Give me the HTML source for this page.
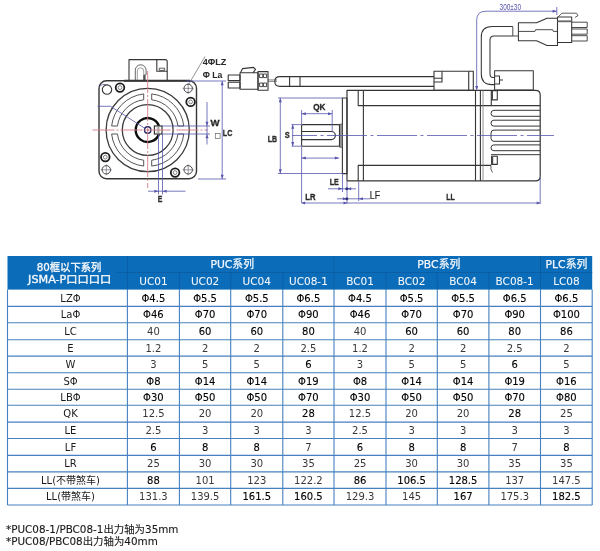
<!DOCTYPE html>
<html><head><meta charset="utf-8"><title>JSMA-P 80框以下系列 尺寸</title>
<style>
html,body{margin:0;padding:0;background:#fff;}
body{width:600px;height:551px;overflow:hidden;position:relative;}
svg{position:absolute;left:0;top:0;display:block;}
</style></head><body>
<svg width="600" height="551" viewBox="0 0 600 551">
<defs><filter id="soft" x="0" y="0" width="1" height="1"><feGaussianBlur stdDeviation="0.5"/></filter></defs>
<g filter="url(#soft)">
<g fill="none" stroke="#363636" stroke-width="1.1" stroke-linejoin="round">
<path d="M129 80.8 V59.6 H165.2 Q167.2 59.6 167.2 61.6 V80.8"/>
<path d="M135.3 80.8 V70.2 a5.4 5.4 0 0 1 10.8 0 V75" stroke="#555" stroke-width="0.9"/>
<path d="M137.3 80.8 V71 a3.2 3.2 0 0 1 6.4 0 V74" stroke="#777" stroke-width="0.7"/>
<rect x="143.2" y="74.5" width="2.4" height="6" fill="#555" stroke="none"/>
<path d="M156.8 59.6 V71.2 H167.2"/>
<rect x="159.2" y="68.2" width="5.4" height="2.2" stroke-width="0.8"/>
<rect x="99" y="80.8" width="97.5" height="98" rx="7.5" stroke-width="1.4"/>
<line x1="124" y1="80.8" x2="190" y2="80.8" stroke-width="2"/>
<circle cx="147.7" cy="130.0" r="41.6" stroke="#3a3a3a" stroke-width="1.3"/>
<circle cx="147.7" cy="130.0" r="25.4" stroke="#3a3a3a" stroke-width="1.3"/>
<path d="M183.78 134.00 A36.3 36.3 0 0 1 151.70 166.08 L151.70 160.24 A30.5 30.5 0 0 0 177.94 134.00 Z" stroke="#555" stroke-width="1.0"/>
<path d="M143.70 166.08 A36.3 36.3 0 0 1 111.62 134.00 L117.46 134.00 A30.5 30.5 0 0 0 143.70 160.24 Z" stroke="#555" stroke-width="1.0"/>
<path d="M111.62 126.00 A36.3 36.3 0 0 1 143.70 93.92 L143.70 99.76 A30.5 30.5 0 0 0 117.46 126.00 Z" stroke="#555" stroke-width="1.0"/>
<path d="M151.70 93.92 A36.3 36.3 0 0 1 183.78 126.00 L177.94 126.00 A30.5 30.5 0 0 0 151.70 99.76 Z" stroke="#555" stroke-width="1.0"/>
</g>
<path d="M159.01 134.00 A12 12 0 1 1 159.01 126.00" fill="none" stroke="#111" stroke-width="2.4"/>
<rect x="154.4" y="126" width="7.6" height="8" fill="#fff" stroke="#363636" stroke-width="1.2"/>
<path d="M156.5 128 h3.5 M156.5 130 h3.5 M156.5 132 h3.5 M158.2 127 v6" stroke="#777" stroke-width="0.6"/>
<circle cx="147.7" cy="130.0" r="3.2" fill="none" stroke="#2a2a6a" stroke-width="1.4"/>
<circle cx="147.7" cy="130.0" r="1" fill="#777"/>
<circle cx="188.2" cy="88.4" r="4.2" fill="none" stroke="#444" stroke-width="1"/>
<path d="M182.7 88.4 h11 M188.2 82.9 v11" stroke="#556" stroke-width="0.6"/>
<circle cx="106.3" cy="169.8" r="4.2" fill="none" stroke="#444" stroke-width="1"/>
<path d="M100.8 169.8 h11 M106.3 164.3 v11" stroke="#556" stroke-width="0.6"/>
<circle cx="188.2" cy="169.8" r="4.2" fill="none" stroke="#444" stroke-width="1"/>
<path d="M182.7 169.8 h11 M188.2 164.3 v11" stroke="#556" stroke-width="0.6"/>
<circle cx="107" cy="89.6" r="4.7" fill="none" stroke="#333" stroke-width="1.1"/>
<path d="M99.5 86.5 Q102 83.2 106.5 84.6" fill="none" stroke="#55559a" stroke-width="0.8"/>
<circle cx="120" cy="87.6" r="4.3" fill="none" stroke="#1e1e1e" stroke-width="1.8"/>
<circle cx="120" cy="87.6" r="1.9" fill="none" stroke="#666" stroke-width="0.8"/>
<circle cx="190.6" cy="101.9" r="4.3" fill="none" stroke="#1e1e1e" stroke-width="1.8"/>
<circle cx="190.6" cy="101.9" r="1.9" fill="none" stroke="#666" stroke-width="0.8"/>
<circle cx="105.3" cy="157.1" r="4.3" fill="none" stroke="#1e1e1e" stroke-width="1.8"/>
<circle cx="105.3" cy="157.1" r="1.9" fill="none" stroke="#666" stroke-width="0.8"/>
<circle cx="175.1" cy="172.6" r="4.3" fill="none" stroke="#1e1e1e" stroke-width="1.8"/>
<circle cx="175.1" cy="172.6" r="1.9" fill="none" stroke="#666" stroke-width="0.8"/>
<g stroke="#d47c86" stroke-width="0.9" fill="none" stroke-dasharray="22 2 2 2">
<line x1="92.5" y1="130.0" x2="208" y2="130.0"/>
<line x1="147.7" y1="71" x2="147.7" y2="188"/>
</g>
<polyline points="97.5,106.3 110.5,106.3 145.3,128.6" fill="none" stroke="#5656ad" stroke-width="0.8"/>
<line x1="205" y1="56.5" x2="188.6" y2="84.5" stroke="#666" stroke-width="0.7"/>
<g stroke="#5656ad" stroke-width="0.8" fill="none">
<line x1="162" y1="126" x2="210" y2="126"/>
<line x1="162" y1="134" x2="210" y2="134"/>
<line x1="207" y1="102" x2="207" y2="144.5"/>
<line x1="186" y1="81" x2="226" y2="81"/>
<line x1="198" y1="179" x2="226" y2="179"/>
<line x1="222.2" y1="81" x2="222.2" y2="179"/>
<line x1="158.5" y1="134" x2="158.5" y2="194.5"/>
<line x1="162.5" y1="134" x2="162.5" y2="194.5"/>
<line x1="148" y1="191.2" x2="185.5" y2="191.2"/>
</g>
<path d="M207.00 126.00 L205.50 121.80 L208.50 121.80 Z" fill="#5656ad" stroke="none"/>
<path d="M207.00 134.00 L208.50 138.20 L205.50 138.20 Z" fill="#5656ad" stroke="none"/>
<path d="M222.20 81.00 L223.70 85.20 L220.70 85.20 Z" fill="#5656ad" stroke="none"/>
<path d="M222.20 179.00 L220.70 174.80 L223.70 174.80 Z" fill="#5656ad" stroke="none"/>
<path d="M158.50 191.20 L154.30 192.70 L154.30 189.70 Z" fill="#5656ad" stroke="none"/>
<path d="M162.50 191.20 L166.70 189.70 L166.70 192.70 Z" fill="#5656ad" stroke="none"/>
<rect x="215.3" y="133.4" width="4.8" height="5" fill="none" stroke="#666" stroke-width="0.7"/>
<g font-family="'Liberation Sans','Noto Sans CJK SC',sans-serif" font-weight="bold" fill="#2a2a2a" stroke="#2a2a2a" stroke-width="0.35" font-size="9.5">
<text x="202.8" y="65.2" textLength="23.6" lengthAdjust="spacingAndGlyphs" font-size="9.8" stroke-width="0.05">4ΦLZ</text>
<text x="202.8" y="77.5" textLength="19.6" lengthAdjust="spacingAndGlyphs" font-size="9.8" stroke-width="0.05">Φ La</text>
<text x="210.4" y="126.2" textLength="9" lengthAdjust="spacingAndGlyphs">W</text>
<text x="222.8" y="136" textLength="9.6" lengthAdjust="spacingAndGlyphs">LC</text>
<text x="157.8" y="201.6" textLength="4.6" lengthAdjust="spacingAndGlyphs">E</text>
<text x="313.2" y="110.4" textLength="12.2" lengthAdjust="spacingAndGlyphs">QK</text>
<text x="267.8" y="142.4" textLength="9.3" lengthAdjust="spacingAndGlyphs">LB</text>
<text x="284.8" y="138.4" textLength="5" lengthAdjust="spacingAndGlyphs">S</text>
<text x="329.8" y="185.2" textLength="9" lengthAdjust="spacingAndGlyphs">LE</text>
<text x="369.8" y="198.8" textLength="10.2" lengthAdjust="spacingAndGlyphs" font-weight="normal" font-size="10.4" stroke-width="0.2">LF</text>
<text x="305.3" y="199.6" textLength="10.2" lengthAdjust="spacingAndGlyphs">LR</text>
<text x="446.3" y="199.6" textLength="8.4" lengthAdjust="spacingAndGlyphs">LL</text>
</g>
<text x="499.6" y="10" font-family="'Liberation Sans','Noto Sans CJK SC',sans-serif" font-size="8.2" fill="#5656ad" textLength="21.4" lengthAdjust="spacingAndGlyphs">300±30</text>
<g fill="none" stroke="#363636" stroke-width="1.1" stroke-linejoin="round">
<rect x="228.2" y="75" width="11.8" height="5.6"/>
<rect x="228.2" y="82.2" width="11.8" height="5.8"/>
<rect x="240" y="72.8" width="18" height="16.4"/>
<path d="M240.5 72.8 L242.5 68.6 L253.5 67.4 L255.5 69.5 L253 72.8"/>
<rect x="258" y="71.6" width="10" height="18.6"/>
<rect x="259.6" y="74" width="3.2" height="3.6" stroke-width="0.9"/><rect x="263.4" y="74" width="3.2" height="3.6" stroke-width="0.9"/>
<rect x="259.6" y="83" width="3.2" height="3.6" stroke-width="0.9"/><rect x="263.4" y="83" width="3.2" height="3.6" stroke-width="0.9"/>
<path d="M268 79.9 H277 M268 81.4 H277" stroke-width="0.6"/>
<path d="M434 76.6 H280 Q274.8 76.6 274.8 81.5 Q274.8 86.4 280 86.4 H434"/>
<line x1="289.6" y1="76.6" x2="289.6" y2="86.4"/>
<line x1="300" y1="76.6" x2="300" y2="86.4"/>
<rect x="434" y="71.3" width="39.3" height="19"/>
<path d="M442 71.3 V82 H434 M434 78.2 H442 M468.7 71.3 V90.3"/>
<path d="M347 90.3 H535.6 Q540.2 90.3 540.2 95 V176.2 Q540.2 180.9 535.4 180.9 H347 Z" stroke-width="1.2"/>
<line x1="475.5" y1="90.3" x2="475.5" y2="180.9"/>
<line x1="363.4" y1="90.3" x2="363.4" y2="180.9"/>
<path d="M358.2 90.3 V105.6 H540"/>
<path d="M358.2 180.9 V165.4 H491"/>
<rect x="342.4" y="98" width="4.6" height="75.6"/>
<rect x="339.5" y="124.2" width="2.9" height="23" fill="#9a9a9a" stroke="#444" stroke-width="0.8"/>
<rect x="301.6" y="124.6" width="37.9" height="21.6" rx="1.2"/>
<path d="M301.6 131.5 H331.3 A4.05 4.05 0 0 1 331.3 139.6 H301.6" stroke-width="1.2"/>
<line x1="480.4" y1="90.3" x2="480.4" y2="180.9"/>
<line x1="483" y1="90.3" x2="483" y2="180.9" stroke="#777" stroke-width="0.8"/>
<rect x="491.3" y="90.6" width="6" height="9.3"/>
<rect x="491.4" y="91" width="1.6" height="8.4" fill="#444" stroke="none"/>
<rect x="491.6" y="156.3" width="5.7" height="8.1"/>
<rect x="491.6" y="156.8" width="1.6" height="7.4" fill="#444" stroke="none"/>
<line x1="491.3" y1="99.9" x2="491.3" y2="105.6"/>
<path d="M491 165.6 Q490 169 492.5 172.5" stroke-width="0.8"/>
<path d="M540 110.3 H494.0 Q491 110.3 491 113.3 V113.3 Q491 116.3 494.0 116.3 H540" stroke-width="1"/>
<path d="M540 120.2 H493.9 Q491 120.2 491 123.2 V123.2 Q491 126.1 493.9 126.1 H540" stroke-width="1"/>
<path d="M540 130.1 H494.0 Q491 130.1 491 133.1 V138.3 Q491 141.3 494.0 141.3 H540" stroke-width="1"/>
<path d="M540 144.9 H493.9 Q491 144.9 491 147.8 V147.8 Q491 150.7 493.9 150.7 H540" stroke-width="1"/>
<line x1="491" y1="154.7" x2="540" y2="154.7" stroke-width="1"/>
</g>
<g fill="none" stroke="#363636" stroke-width="1.05" stroke-linejoin="round">
<rect x="494.6" y="70.8" width="38.7" height="19.3"/>
<path d="M494.6 76 H499.5 V84 H494.6 M499.5 80 H503"/>
<path d="M494.6 84.6 H492 Q481.3 84.6 481.3 74 V37 Q481.3 26.4 492 26.4 H512.8"/>
<path d="M494.6 77.5 H493 Q490 77.5 490 74 V40 Q490 35.9 494 35.9 H512.8"/>
<path d="M512.8 26.7 V36 M512.8 36 H518.4" stroke-width="0.9"/>
<path d="M518.4 22.7 H536.6 L547 18.2 H557.5 V45.4 H547 L536.6 40.8 H518.4 Z"/>
<path d="M518.4 31.4 H534.9 L535.6 29.7 H552.6 L553.3 31.4 H557.5" stroke-width="0.9"/>
<rect x="557.5" y="17" width="14.2" height="25.5"/>
<rect x="557.5" y="20.4" width="14.2" height="1.8" fill="#666" stroke="none"/>
<path d="M558 17 L562 13.2 H576.5 L578 15.5 L575 17.5" stroke-width="0.8"/>
<path d="M571.7 22.2 H587.2 V27.5 H571.7 M571.7 29 H587.2 V34.2 H571.7 M571.7 35.7 H587.2 V41 H571.7" stroke-width="0.9"/>
</g>
<line x1="292" y1="135.5" x2="554" y2="135.5" stroke="#5656ad" stroke-width="0.8" stroke-dasharray="40 3.5 3 3.5" stroke-dashoffset="15"/>
<g stroke="#5656ad" stroke-width="0.8" fill="none">
<line x1="278" y1="98" x2="342.4" y2="98"/>
<line x1="278" y1="173.5" x2="342.4" y2="173.5"/>
<line x1="280.3" y1="98" x2="280.3" y2="173.5"/>
<line x1="291.5" y1="124.6" x2="301.6" y2="124.6"/>
<line x1="291.5" y1="146.2" x2="301.6" y2="146.2"/>
<line x1="292.7" y1="124.6" x2="292.7" y2="146.2"/>
<line x1="301.6" y1="110" x2="301.6" y2="124.6"/>
<line x1="332.2" y1="110" x2="332.2" y2="131.5"/>
<line x1="301.6" y1="113.7" x2="332.2" y2="113.7"/>
<line x1="301.6" y1="146.2" x2="301.6" y2="203"/>
<line x1="301.6" y1="158.1" x2="339" y2="158.1"/>
<line x1="342.5" y1="173.6" x2="342.5" y2="192"/>
<line x1="347" y1="181.5" x2="347" y2="204"/>
<line x1="358.7" y1="181.5" x2="358.7" y2="201"/>
<line x1="328" y1="188.8" x2="356" y2="188.8"/>
<line x1="337" y1="198.8" x2="370" y2="198.8"/>
<line x1="301.6" y1="203" x2="540.2" y2="203"/>
<line x1="540.2" y1="178" x2="540.2" y2="204"/>
<path d="M476.7 89.5 V20 Q476.7 11.2 486 11.2 H556.8"/>
<line x1="556.8" y1="7" x2="556.8" y2="15"/>
</g>
<path d="M280.30 98.00 L281.80 102.20 L278.80 102.20 Z" fill="#5656ad" stroke="none"/>
<path d="M280.30 173.50 L278.80 169.30 L281.80 169.30 Z" fill="#5656ad" stroke="none"/>
<path d="M292.70 124.60 L294.20 128.80 L291.20 128.80 Z" fill="#5656ad" stroke="none"/>
<path d="M292.70 146.20 L291.20 142.00 L294.20 142.00 Z" fill="#5656ad" stroke="none"/>
<path d="M301.60 113.70 L305.80 112.20 L305.80 115.20 Z" fill="#5656ad" stroke="none"/>
<path d="M332.20 113.70 L328.00 115.20 L328.00 112.20 Z" fill="#5656ad" stroke="none"/>
<path d="M301.60 158.10 L305.80 156.60 L305.80 159.60 Z" fill="#5656ad" stroke="none"/>
<path d="M339.00 158.10 L334.80 159.60 L334.80 156.60 Z" fill="#5656ad" stroke="none"/>
<path d="M342.50 188.80 L338.30 190.30 L338.30 187.30 Z" fill="#5656ad" stroke="none"/>
<path d="M347.00 188.80 L351.20 187.30 L351.20 190.30 Z" fill="#5656ad" stroke="none"/>
<path d="M347.00 198.80 L342.80 200.30 L342.80 197.30 Z" fill="#5656ad" stroke="none"/>
<path d="M358.70 198.80 L362.90 197.30 L362.90 200.30 Z" fill="#5656ad" stroke="none"/>
<path d="M301.60 203.00 L305.10 201.50 L305.10 204.50 Z" fill="#5656ad" stroke="none"/>
<path d="M347.00 203.00 L343.50 204.50 L343.50 201.50 Z" fill="#5656ad" stroke="none"/>
<path d="M540.20 203.00 L536.70 204.50 L536.70 201.50 Z" fill="#5656ad" stroke="none"/>
<path d="M476.70 90.20 L475.20 86.00 L478.20 86.00 Z" fill="#5656ad" stroke="none"/>
<path d="M556.80 11.20 L552.60 12.70 L552.60 9.70 Z" fill="#5656ad" stroke="none"/>
<circle cx="346.8" cy="188.8" r="1.5" fill="#33337a"/><circle cx="346.8" cy="198.8" r="1.5" fill="#33337a"/>
</g>
<rect x="7.5" y="256.0" width="584.7" height="33.60000000000002" fill="#0b6cb9"/>
<line x1="117" y1="272.5" x2="592.2" y2="272.5" stroke="#0a5ea6" stroke-width="1"/>
<line x1="127.4" y1="256.0" x2="127.4" y2="289.6" stroke="#0a5ea6" stroke-width="1"/>
<line x1="334.0" y1="256.0" x2="334.0" y2="289.6" stroke="#0a5ea6" stroke-width="1"/>
<line x1="540.5" y1="256.0" x2="540.5" y2="289.6" stroke="#0a5ea6" stroke-width="1"/>
<line x1="179.4" y1="272.5" x2="179.4" y2="289.6" stroke="#0a5ea6" stroke-width="1"/>
<line x1="230.7" y1="272.5" x2="230.7" y2="289.6" stroke="#0a5ea6" stroke-width="1"/>
<line x1="282.8" y1="272.5" x2="282.8" y2="289.6" stroke="#0a5ea6" stroke-width="1"/>
<line x1="386.0" y1="272.5" x2="386.0" y2="289.6" stroke="#0a5ea6" stroke-width="1"/>
<line x1="437.3" y1="272.5" x2="437.3" y2="289.6" stroke="#0a5ea6" stroke-width="1"/>
<line x1="488.9" y1="272.5" x2="488.9" y2="289.6" stroke="#0a5ea6" stroke-width="1"/>
<line x1="7.5" y1="306.4" x2="592.2" y2="306.4" stroke="#4680c0" stroke-width="1.1"/>
<line x1="7.5" y1="322.7" x2="592.2" y2="322.7" stroke="#4680c0" stroke-width="1.1"/>
<line x1="7.5" y1="339.7" x2="592.2" y2="339.7" stroke="#4680c0" stroke-width="1.1"/>
<line x1="7.5" y1="356.1" x2="592.2" y2="356.1" stroke="#4680c0" stroke-width="1.1"/>
<line x1="7.5" y1="372.8" x2="592.2" y2="372.8" stroke="#4680c0" stroke-width="1.1"/>
<line x1="7.5" y1="389.3" x2="592.2" y2="389.3" stroke="#4680c0" stroke-width="1.1"/>
<line x1="7.5" y1="405.2" x2="592.2" y2="405.2" stroke="#4680c0" stroke-width="1.1"/>
<line x1="7.5" y1="422.1" x2="592.2" y2="422.1" stroke="#4680c0" stroke-width="1.1"/>
<line x1="7.5" y1="438.5" x2="592.2" y2="438.5" stroke="#4680c0" stroke-width="1.1"/>
<line x1="7.5" y1="455.4" x2="592.2" y2="455.4" stroke="#4680c0" stroke-width="1.1"/>
<line x1="7.5" y1="471.9" x2="592.2" y2="471.9" stroke="#4680c0" stroke-width="1.1"/>
<line x1="7.5" y1="488.4" x2="592.2" y2="488.4" stroke="#4680c0" stroke-width="1.1"/>
<line x1="7.5" y1="505.0" x2="592.2" y2="505.0" stroke="#4680c0" stroke-width="1.1"/>
<line x1="7.5" y1="289.6" x2="7.5" y2="505.0" stroke="#4680c0" stroke-width="1.1"/>
<line x1="127.4" y1="289.6" x2="127.4" y2="505.0" stroke="#4680c0" stroke-width="1.1"/>
<line x1="179.4" y1="289.6" x2="179.4" y2="505.0" stroke="#4680c0" stroke-width="1.1"/>
<line x1="230.7" y1="289.6" x2="230.7" y2="505.0" stroke="#4680c0" stroke-width="1.1"/>
<line x1="282.8" y1="289.6" x2="282.8" y2="505.0" stroke="#4680c0" stroke-width="1.1"/>
<line x1="334.0" y1="289.6" x2="334.0" y2="505.0" stroke="#4680c0" stroke-width="1.1"/>
<line x1="386.0" y1="289.6" x2="386.0" y2="505.0" stroke="#4680c0" stroke-width="1.1"/>
<line x1="437.3" y1="289.6" x2="437.3" y2="505.0" stroke="#4680c0" stroke-width="1.1"/>
<line x1="488.9" y1="289.6" x2="488.9" y2="505.0" stroke="#4680c0" stroke-width="1.1"/>
<line x1="540.5" y1="289.6" x2="540.5" y2="505.0" stroke="#4680c0" stroke-width="1.1"/>
<line x1="592.2" y1="289.6" x2="592.2" y2="505.0" stroke="#4680c0" stroke-width="1.1"/>
<g fill="#f4f8fc" stroke="#f4f8fc" stroke-width="0.25" font-family="'DejaVu Sans','Noto Sans CJK SC',sans-serif" font-size="10" text-anchor="middle">
<text x="69" y="271" font-size="10.5" stroke-width="0.35" textLength="64.5" lengthAdjust="spacingAndGlyphs">80框以下系列</text>
<text x="69.6" y="283.2" font-size="10.5" stroke-width="0.35" textLength="83" lengthAdjust="spacingAndGlyphs">JSMA-P口口口口</text>
<text x="232.2" y="268.3" font-size="10.8">PUC系列</text>
<text x="438.8" y="268.3" font-size="10.8">PBC系列</text>
<text x="566.4" y="268.3" font-size="10.8">PLC系列</text>
<text x="153.4" y="284.7" font-size="10.5" stroke-width="0.05">UC01</text>
<text x="205.1" y="284.7" font-size="10.5" stroke-width="0.05">UC02</text>
<text x="256.8" y="284.7" font-size="10.5" stroke-width="0.05">UC04</text>
<text x="308.4" y="284.7" font-size="10.5" stroke-width="0.05">UC08-1</text>
<text x="360.0" y="284.7" font-size="10.5" stroke-width="0.05">BC01</text>
<text x="411.6" y="284.7" font-size="10.5" stroke-width="0.05">BC02</text>
<text x="463.1" y="284.7" font-size="10.5" stroke-width="0.05">BC04</text>
<text x="514.7" y="284.7" font-size="10.5" stroke-width="0.05">BC08-1</text>
<text x="566.4" y="284.7" font-size="10.5" stroke-width="0.05">LC08</text>
</g>
<g font-family="'DejaVu Sans','Noto Sans CJK SC',sans-serif" font-size="10" text-anchor="middle">
<text x="70.5" y="301.7" fill="#1a1a1a">LZΦ</text>
<text x="153.4" y="301.7" fill="#000" stroke="#000" stroke-width="0.12">Φ4.5</text>
<text x="205.1" y="301.7" fill="#000" stroke="#000" stroke-width="0.12">Φ5.5</text>
<text x="256.8" y="301.7" fill="#000" stroke="#000" stroke-width="0.12">Φ5.5</text>
<text x="308.4" y="301.7" fill="#000" stroke="#000" stroke-width="0.12">Φ6.5</text>
<text x="360.0" y="301.7" fill="#000" stroke="#000" stroke-width="0.12">Φ4.5</text>
<text x="411.6" y="301.7" fill="#000" stroke="#000" stroke-width="0.12">Φ5.5</text>
<text x="463.1" y="301.7" fill="#000" stroke="#000" stroke-width="0.12">Φ5.5</text>
<text x="514.7" y="301.7" fill="#000" stroke="#000" stroke-width="0.12">Φ6.5</text>
<text x="566.4" y="301.7" fill="#000" stroke="#000" stroke-width="0.12">Φ6.5</text>
<text x="70.5" y="318.2" fill="#1a1a1a">LaΦ</text>
<text x="153.4" y="318.2" fill="#000" stroke="#000" stroke-width="0.12">Φ46</text>
<text x="205.1" y="318.2" fill="#000" stroke="#000" stroke-width="0.12">Φ70</text>
<text x="256.8" y="318.2" fill="#000" stroke="#000" stroke-width="0.12">Φ70</text>
<text x="308.4" y="318.2" fill="#000" stroke="#000" stroke-width="0.12">Φ90</text>
<text x="360.0" y="318.2" fill="#000" stroke="#000" stroke-width="0.12">Φ46</text>
<text x="411.6" y="318.2" fill="#000" stroke="#000" stroke-width="0.12">Φ70</text>
<text x="463.1" y="318.2" fill="#000" stroke="#000" stroke-width="0.12">Φ70</text>
<text x="514.7" y="318.2" fill="#000" stroke="#000" stroke-width="0.12">Φ90</text>
<text x="566.4" y="318.2" fill="#000" stroke="#000" stroke-width="0.12">Φ100</text>
<text x="70.5" y="334.9" fill="#1a1a1a">LC</text>
<text x="153.4" y="334.9" fill="#383838">40</text>
<text x="205.1" y="334.9" fill="#000" stroke="#000" stroke-width="0.12">60</text>
<text x="256.8" y="334.9" fill="#000" stroke="#000" stroke-width="0.12">60</text>
<text x="308.4" y="334.9" fill="#000" stroke="#000" stroke-width="0.12">80</text>
<text x="360.0" y="334.9" fill="#383838">40</text>
<text x="411.6" y="334.9" fill="#000" stroke="#000" stroke-width="0.12">60</text>
<text x="463.1" y="334.9" fill="#000" stroke="#000" stroke-width="0.12">60</text>
<text x="514.7" y="334.9" fill="#000" stroke="#000" stroke-width="0.12">80</text>
<text x="566.4" y="334.9" fill="#000" stroke="#000" stroke-width="0.12">86</text>
<text x="70.5" y="351.6" fill="#1a1a1a">E</text>
<text x="153.4" y="351.6" fill="#383838">1.2</text>
<text x="205.1" y="351.6" fill="#383838">2</text>
<text x="256.8" y="351.6" fill="#383838">2</text>
<text x="308.4" y="351.6" fill="#383838">2.5</text>
<text x="360.0" y="351.6" fill="#383838">1.2</text>
<text x="411.6" y="351.6" fill="#383838">2</text>
<text x="463.1" y="351.6" fill="#383838">2</text>
<text x="514.7" y="351.6" fill="#383838">2.5</text>
<text x="566.4" y="351.6" fill="#383838">2</text>
<text x="70.5" y="368.2" fill="#1a1a1a">W</text>
<text x="153.4" y="368.2" fill="#383838">3</text>
<text x="205.1" y="368.2" fill="#383838">5</text>
<text x="256.8" y="368.2" fill="#383838">5</text>
<text x="308.4" y="368.2" fill="#000" stroke="#000" stroke-width="0.12">6</text>
<text x="360.0" y="368.2" fill="#383838">3</text>
<text x="411.6" y="368.2" fill="#383838">5</text>
<text x="463.1" y="368.2" fill="#383838">5</text>
<text x="514.7" y="368.2" fill="#000" stroke="#000" stroke-width="0.12">6</text>
<text x="566.4" y="368.2" fill="#383838">5</text>
<text x="70.5" y="384.8" fill="#1a1a1a">SΦ</text>
<text x="153.4" y="384.8" fill="#000" stroke="#000" stroke-width="0.12">Φ8</text>
<text x="205.1" y="384.8" fill="#000" stroke="#000" stroke-width="0.12">Φ14</text>
<text x="256.8" y="384.8" fill="#000" stroke="#000" stroke-width="0.12">Φ14</text>
<text x="308.4" y="384.8" fill="#000" stroke="#000" stroke-width="0.12">Φ19</text>
<text x="360.0" y="384.8" fill="#000" stroke="#000" stroke-width="0.12">Φ8</text>
<text x="411.6" y="384.8" fill="#000" stroke="#000" stroke-width="0.12">Φ14</text>
<text x="463.1" y="384.8" fill="#000" stroke="#000" stroke-width="0.12">Φ14</text>
<text x="514.7" y="384.8" fill="#000" stroke="#000" stroke-width="0.12">Φ19</text>
<text x="566.4" y="384.8" fill="#000" stroke="#000" stroke-width="0.12">Φ16</text>
<text x="70.5" y="400.9" fill="#1a1a1a">LBΦ</text>
<text x="153.4" y="400.9" fill="#000" stroke="#000" stroke-width="0.12">Φ30</text>
<text x="205.1" y="400.9" fill="#000" stroke="#000" stroke-width="0.12">Φ50</text>
<text x="256.8" y="400.9" fill="#000" stroke="#000" stroke-width="0.12">Φ50</text>
<text x="308.4" y="400.9" fill="#000" stroke="#000" stroke-width="0.12">Φ70</text>
<text x="360.0" y="400.9" fill="#000" stroke="#000" stroke-width="0.12">Φ30</text>
<text x="411.6" y="400.9" fill="#000" stroke="#000" stroke-width="0.12">Φ50</text>
<text x="463.1" y="400.9" fill="#000" stroke="#000" stroke-width="0.12">Φ50</text>
<text x="514.7" y="400.9" fill="#000" stroke="#000" stroke-width="0.12">Φ70</text>
<text x="566.4" y="400.9" fill="#000" stroke="#000" stroke-width="0.12">Φ80</text>
<text x="70.5" y="417.3" fill="#1a1a1a">QK</text>
<text x="153.4" y="417.3" fill="#383838">12.5</text>
<text x="205.1" y="417.3" fill="#383838">20</text>
<text x="256.8" y="417.3" fill="#383838">20</text>
<text x="308.4" y="417.3" fill="#000" stroke="#000" stroke-width="0.12">28</text>
<text x="360.0" y="417.3" fill="#383838">12.5</text>
<text x="411.6" y="417.3" fill="#383838">20</text>
<text x="463.1" y="417.3" fill="#383838">20</text>
<text x="514.7" y="417.3" fill="#000" stroke="#000" stroke-width="0.12">28</text>
<text x="566.4" y="417.3" fill="#383838">25</text>
<text x="70.5" y="434.0" fill="#1a1a1a">LE</text>
<text x="153.4" y="434.0" fill="#383838">2.5</text>
<text x="205.1" y="434.0" fill="#383838">3</text>
<text x="256.8" y="434.0" fill="#383838">3</text>
<text x="308.4" y="434.0" fill="#383838">3</text>
<text x="360.0" y="434.0" fill="#383838">2.5</text>
<text x="411.6" y="434.0" fill="#383838">3</text>
<text x="463.1" y="434.0" fill="#383838">3</text>
<text x="514.7" y="434.0" fill="#383838">3</text>
<text x="566.4" y="434.0" fill="#383838">3</text>
<text x="70.5" y="450.6" fill="#1a1a1a">LF</text>
<text x="153.4" y="450.6" fill="#000" stroke="#000" stroke-width="0.12">6</text>
<text x="205.1" y="450.6" fill="#000" stroke="#000" stroke-width="0.12">8</text>
<text x="256.8" y="450.6" fill="#000" stroke="#000" stroke-width="0.12">8</text>
<text x="308.4" y="450.6" fill="#383838">7</text>
<text x="360.0" y="450.6" fill="#000" stroke="#000" stroke-width="0.12">6</text>
<text x="411.6" y="450.6" fill="#000" stroke="#000" stroke-width="0.12">8</text>
<text x="463.1" y="450.6" fill="#000" stroke="#000" stroke-width="0.12">8</text>
<text x="514.7" y="450.6" fill="#383838">7</text>
<text x="566.4" y="450.6" fill="#000" stroke="#000" stroke-width="0.12">8</text>
<text x="70.5" y="467.3" fill="#1a1a1a">LR</text>
<text x="153.4" y="467.3" fill="#383838">25</text>
<text x="205.1" y="467.3" fill="#383838">30</text>
<text x="256.8" y="467.3" fill="#383838">30</text>
<text x="308.4" y="467.3" fill="#383838">35</text>
<text x="360.0" y="467.3" fill="#383838">25</text>
<text x="411.6" y="467.3" fill="#383838">30</text>
<text x="463.1" y="467.3" fill="#383838">30</text>
<text x="514.7" y="467.3" fill="#383838">35</text>
<text x="566.4" y="467.3" fill="#383838">35</text>
<text x="70.5" y="483.8" fill="#1a1a1a">LL(不带煞车)</text>
<text x="153.4" y="483.8" fill="#000" stroke="#000" stroke-width="0.12">88</text>
<text x="205.1" y="483.8" fill="#383838">101</text>
<text x="256.8" y="483.8" fill="#383838">123</text>
<text x="308.4" y="483.8" fill="#383838">122.2</text>
<text x="360.0" y="483.8" fill="#000" stroke="#000" stroke-width="0.12">86</text>
<text x="411.6" y="483.8" fill="#000" stroke="#000" stroke-width="0.12">106.5</text>
<text x="463.1" y="483.8" fill="#000" stroke="#000" stroke-width="0.12">128.5</text>
<text x="514.7" y="483.8" fill="#383838">137</text>
<text x="566.4" y="483.8" fill="#383838">147.5</text>
<text x="70.5" y="500.4" fill="#1a1a1a">LL(带煞车)</text>
<text x="153.4" y="500.4" fill="#383838">131.3</text>
<text x="205.1" y="500.4" fill="#383838">139.5</text>
<text x="256.8" y="500.4" fill="#000" stroke="#000" stroke-width="0.12">161.5</text>
<text x="308.4" y="500.4" fill="#000" stroke="#000" stroke-width="0.12">160.5</text>
<text x="360.0" y="500.4" fill="#383838">129.3</text>
<text x="411.6" y="500.4" fill="#383838">145</text>
<text x="463.1" y="500.4" fill="#000" stroke="#000" stroke-width="0.12">167</text>
<text x="514.7" y="500.4" fill="#383838">175.3</text>
<text x="566.4" y="500.4" fill="#000" stroke="#000" stroke-width="0.12">182.5</text>
</g>
<g font-family="'DejaVu Sans','Noto Sans CJK SC',sans-serif" font-size="10.4" fill="#1a1a1a" stroke="#1a1a1a" stroke-width="0.12">
<text x="6" y="532.8">*PUC08-1/PBC08-1出力轴为35mm</text>
<text x="6" y="544.6">*PUC08/PBC08出力轴为40mm</text>
</g>
</svg>
</body></html>
